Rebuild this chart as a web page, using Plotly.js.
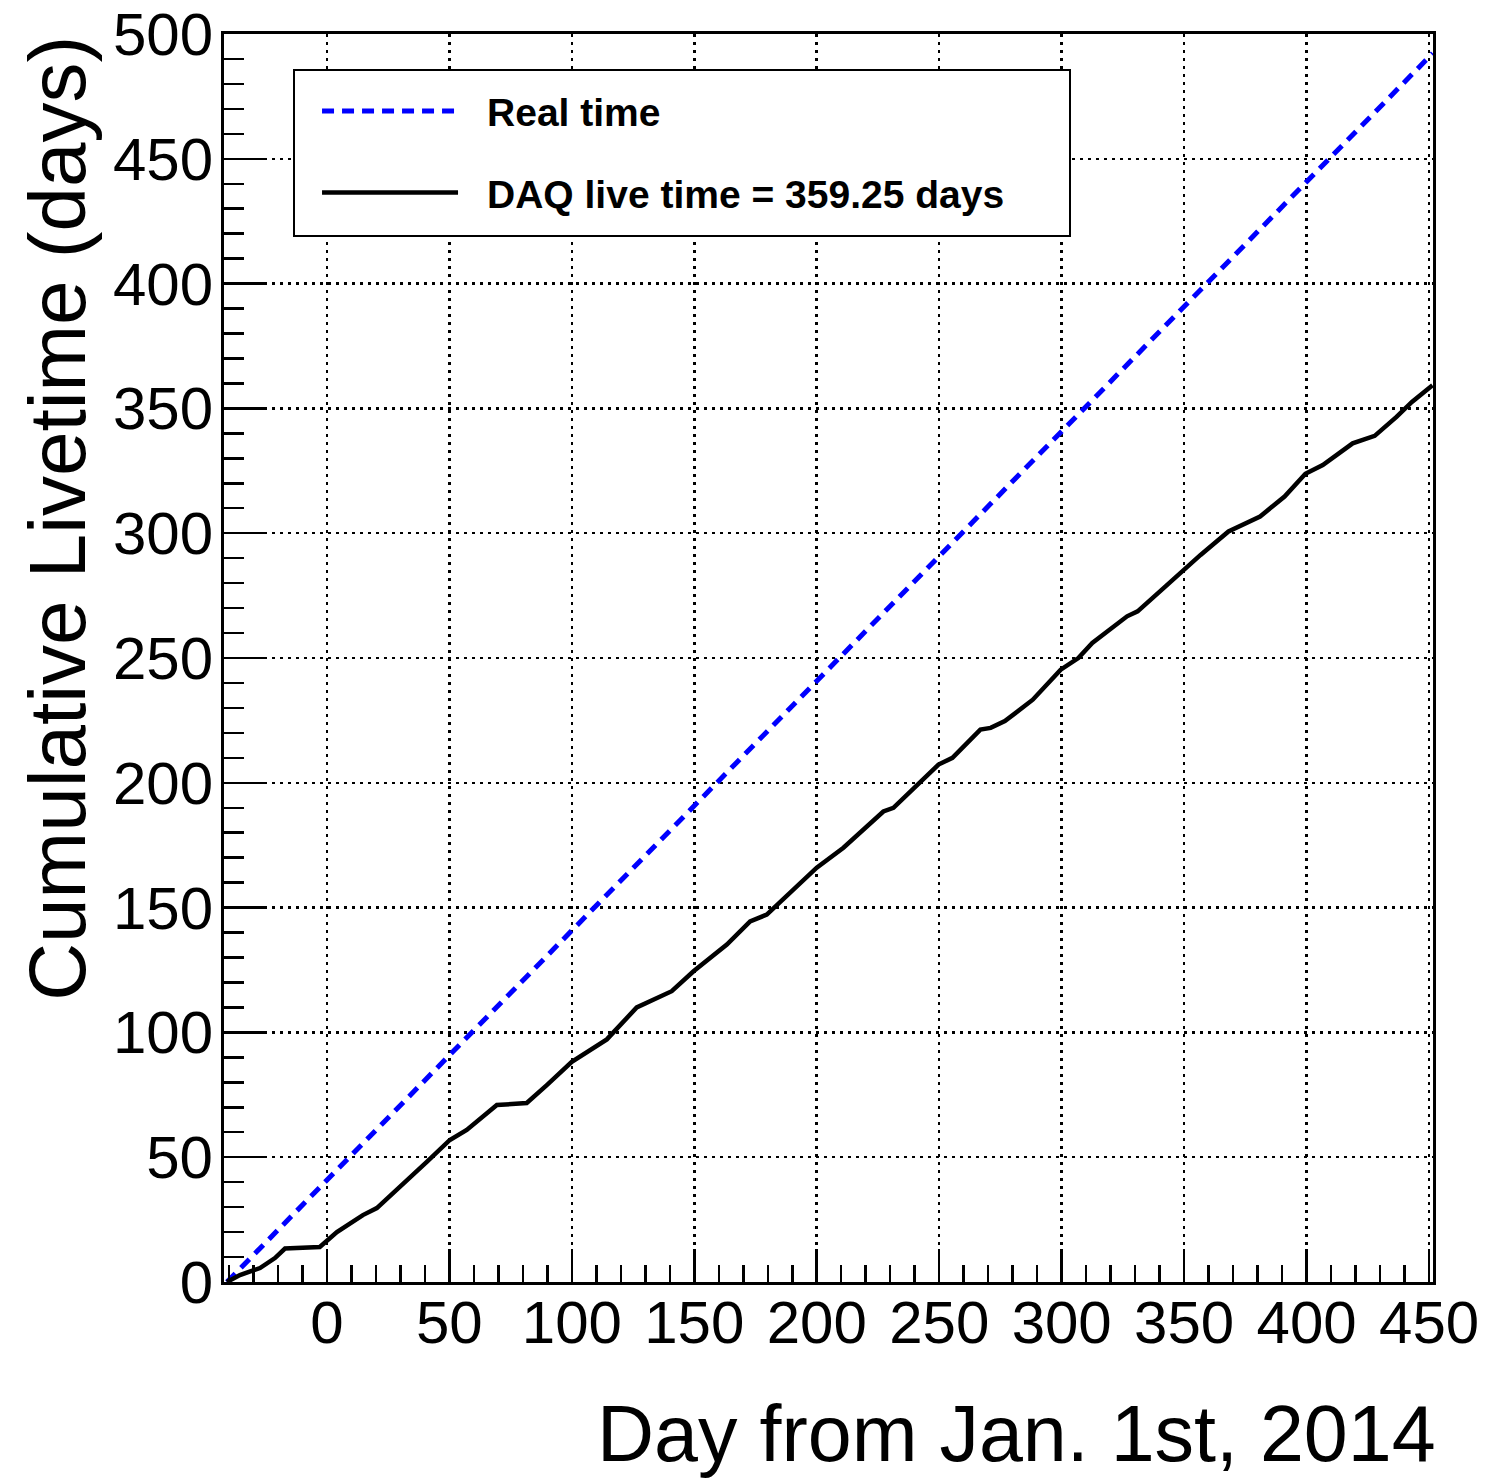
<!DOCTYPE html>
<html>
<head>
<meta charset="utf-8">
<script src="https://cdn.plot.ly/plotly-3.0.1.min.js"></script>
<style>
  html, body { margin: 0; padding: 0; background: #ffffff; }
  #chart { width: 1491px; height: 1479px; }
</style>
</head>
<body>
<div id="chart"></div>
<script>
// ---- data ----
const realDays  = [-40.8, 451.5];
const realTime  = [0, 492.3];

const liveDays = [-40.8, -35.5, -27.3, -21.2, -17.1, -2.9, 4.1, 14.7, 20.4, 31, 40.8, 50.2, 57.1, 69.4, 81.6, 89.8,
  100, 114.3, 126.5, 140.8, 149.7, 163.3, 172.8, 179.6, 200, 210.9, 227.2, 231.3, 240.8, 249.7, 255.4,
  266.8, 271, 276.8, 288.2, 299.6, 306.8, 312.5, 326.7, 331, 342.4, 349.6, 356.7, 368.1, 375.2, 381,
  391, 399.5, 406.6, 418.8, 427.8, 436.7, 443, 451.4];
const liveTime = [0, 2.8, 5.6, 9.6, 13.4, 14.0, 20.0, 26.8, 29.6, 38.9, 48.1, 56.9, 60.9, 70.9, 71.7, 78.9,
  88.2, 97.2, 110, 116.5, 124.5, 135.2, 144.5, 147.2, 166, 174, 188.5, 190, 199.2, 207.3, 210,
  221.3, 222, 224.7, 233.3, 245.3, 250, 256, 266.7, 268.7, 278.7, 285.3, 291.3, 300.7, 304, 306.7,
  314.7, 323.8, 327.3, 336, 339, 346.6, 352.6, 359.25];

const realName = "Real time";
const liveName = "DAQ live time = 359.25 days";
const xTitle = "Day from Jan. 1st, 2014";
const yTitle = "Cumulative Livetime (days)";
const xTickVals = [0, 50, 100, 150, 200, 250, 300, 350, 400, 450];
const yTickVals = [0, 50, 100, 150, 200, 250, 300, 350, 400, 450, 500];

const FONT = "Liberation Sans, Arial, Helvetica, sans-serif";

const traces = [
  {
    x: realDays, y: realTime, type: "scatter", mode: "lines", name: realName,
    legendgroup: "g1",
    line: { color: "#0000ff", width: 5, dash: "12px,8px" }
  },
  {
    x: liveDays, y: liveTime, type: "scatter", mode: "lines", name: liveName,
    legendgroup: "g2",
    line: { color: "#000000", width: 4.5 }
  }
];

const axisCommon = {
  showline: true, mirror: true, linecolor: "#000", linewidth: 3,
  ticks: "inside", tickcolor: "#000", tickwidth: 2.5,
  showgrid: true, gridcolor: "#000", gridwidth: 2.5, griddash: "3px,5px",
  zeroline: false,
  tickfont: { family: FONT, size: 60, color: "#000" },
  layer: "above traces"
};

const layout = {
  width: 1491, height: 1479,
  margin: { l: 224, r: 58, t: 34, b: 197 },
  paper_bgcolor: "#fff", plot_bgcolor: "#fff",
  showlegend: true,
  xaxis: Object.assign({}, axisCommon, {
    range: [-42, 451.6], tickmode: "array", tickvals: xTickVals, ticktext: xTickVals.map(String),
    ticklen: 33, ticklabelstandoff: -14,
    minor: { dtick: 10, tick0: 0, ticks: "inside", ticklen: 17, tickwidth: 2.5, tickcolor: "#000", showgrid: false }
  }),
  yaxis: Object.assign({}, axisCommon, {
    range: [0, 500], tickmode: "array", tickvals: yTickVals, ticktext: yTickVals.map(String),
    ticklen: 40, ticklabelstandoff: -4,
    minor: { dtick: 10, tick0: 0, ticks: "inside", ticklen: 20, tickwidth: 2.5, tickcolor: "#000", showgrid: false }
  }),
  legend: {
    x: 0.0571, y: 0.9655, xanchor: "left", yanchor: "top",
    bgcolor: "#fff", bordercolor: "#000", borderwidth: 2,
    font: { family: FONT, size: 39, color: "#000", weight: "bold" },
    itemwidth: 182, traceorder: "grouped", tracegroupgap: 28
  },
  annotations: [
    {
      text: xTitle, xref: "paper", yref: "paper", x: 1.003, y: -0.1579,
      xanchor: "right", yanchor: "bottom", showarrow: false, borderpad: 0,
      font: { family: FONT, size: 79, color: "#000" }
    },
    {
      text: yTitle, xref: "paper", yref: "paper", x: -0.138, y: 1.0,
      xanchor: "center", yanchor: "top", textangle: -90, showarrow: false,
      font: { family: FONT, size: 80, color: "#000" }
    }
  ]
};

Plotly.newPlot("chart", traces, layout, { displayModeBar: false, staticPlot: true }).then(function () {
  // lengthen legend line samples to match the reference
  document.querySelectorAll(".legend .legendlines path").forEach(function (p) {
    p.setAttribute("d", "M27,0h136");
  });
  // enlarge the legend frame to the reference box size
  const bg = document.querySelector(".legend rect.bg");
  if (bg) {
    const y0 = parseFloat(bg.getAttribute("y") || "0");
    bg.setAttribute("y", String(y0 - 8));
    bg.setAttribute("height", "166");
    bg.setAttribute("width", "776");
  }
});
</script>
</body>
</html>
